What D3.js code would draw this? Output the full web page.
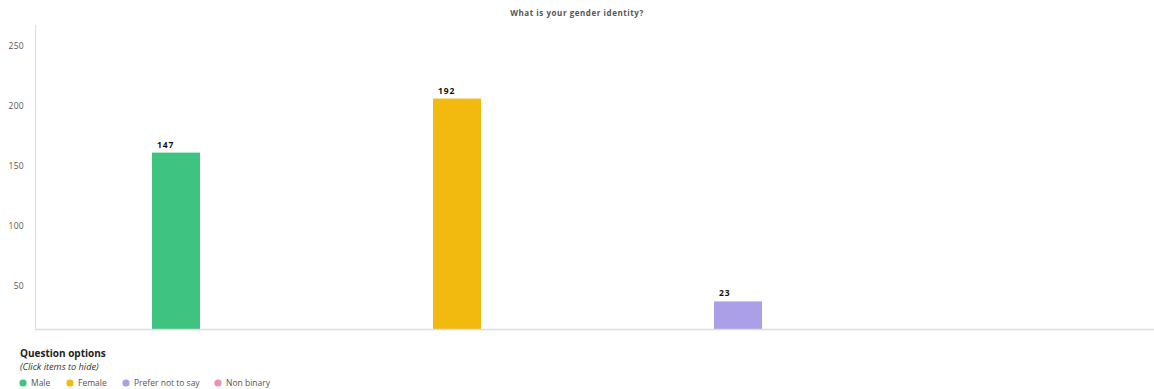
<!DOCTYPE html>
<html><head><meta charset="utf-8">
<script src="https://cdn.jsdelivr.net/npm/d3@7"></script>
<style>body{margin:0;background:#fff;}svg{display:block;font-family:"Open Sans","DejaVu Sans",sans-serif;}</style>
</head><body><svg id="c" width="1154" height="389"></svg>
<script>
const categories = ["Male", "Female", "Prefer not to say", "Non binary"];
const values = [147, 192, 23, 0];
const colors = ["#3fc380", "#f2b90f", "#ab9fe8", "#ef8fb0"];
const yTicks = [50, 100, 150, 200, 250];
const title = "What is your gender identity?";

const svg = d3.select("#c");
const m = {left: 35, top: 29, bottom: 329};
const x = d3.scaleBand().domain(categories).range([35.5, 1159.5]);
const y = d3.scaleLinear().domain([0, 250]).range([m.bottom, m.top]);

svg.append("text").attr("x", 577).attr("y", 16).attr("text-anchor", "middle")
  .attr("font-size", 8).attr("font-weight", "bold").attr("fill", "#555").attr("letter-spacing", 0.55).text(title);

// y axis
const ya = svg.append("g").attr("transform", `translate(${m.left},0)`)
  .call(d3.axisLeft(y).tickValues(yTicks).tickSize(0).tickPadding(11));
ya.select(".domain").attr("stroke", "#ddd").attr("d", `M0.5,25V${m.bottom}`);
ya.selectAll("text").attr("font-size", 8.5).attr("fill", "#555").attr("dy", 19)
  .attr("letter-spacing", 0.3)
  .attr("font-family", "'Open Sans',sans-serif");

// bars
svg.selectAll("rect.bar").data(values).join("rect")
  .attr("class", "bar")
  .attr("x", (d, i) => x(categories[i]) + x.bandwidth() / 2 - 24)
  .attr("width", 48)
  .attr("y", d => y(d))
  .attr("height", d => y(0) - y(d))
  .attr("fill", (d, i) => colors[i]);

// value labels
svg.selectAll("text.val").data(values).join("text")
  .attr("class", "val")
  .filter(d => d > 0)
  .attr("x", (d, i) => x(categories[i]) + x.bandwidth() / 2 - 19)
  .attr("y", d => y(d) - 5)
  .attr("font-size", 8.5).attr("font-weight", "bold").attr("fill", "#111")
  .attr("letter-spacing", 0.9)
  .text(d => d);

// baseline
svg.append("line").attr("x1", m.left).attr("x2", 1154).attr("y1", m.bottom + 0.5).attr("y2", m.bottom + 0.5)
  .attr("stroke", "#dcdcdc").attr("stroke-width", 1.5);

// legend
svg.append("text").attr("x", 20).attr("y", 357).attr("font-size", 10).attr("font-weight", "bold")
  .attr("fill", "#222").text("Question options");
svg.append("text").attr("x", 20).attr("y", 370).attr("font-size", 9.2).attr("font-style", "italic")
  .attr("fill", "#333").text("(Click items to hide)");
const lx = [23, 70, 126, 218];
const lg = svg.selectAll("g.leg").data(categories).join("g").attr("class", "leg")
  .attr("transform", (d, i) => `translate(${lx[i]},383)`);
lg.append("circle").attr("r", 3.6).attr("fill", (d, i) => colors[i]);
lg.append("text").attr("x", 8).attr("y", 3).attr("font-size", 8.5).attr("fill", "#555").text(d => d);
</script></body></html>
